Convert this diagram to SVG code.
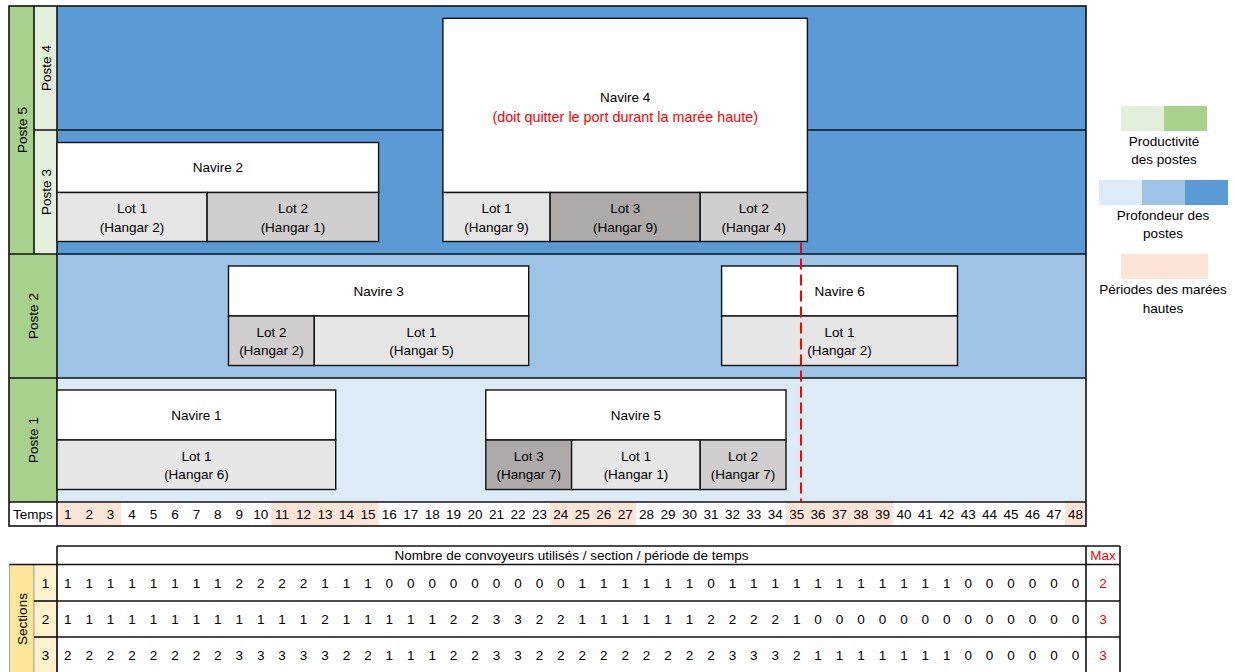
<svg xmlns="http://www.w3.org/2000/svg" width="1235" height="672" viewBox="0 0 1235 672">
<style>
.t{font-family:"Liberation Sans",Arial,sans-serif;font-size:13.5px;fill:#000;text-anchor:middle;dominant-baseline:central}
.r{font-family:"Liberation Sans",Arial,sans-serif;font-size:14.4px;fill:#FF0000;text-anchor:middle;dominant-baseline:central}
.mx{fill:#FF0000}
.ln{stroke:#111;stroke-width:1.6;fill:none}
.box{stroke:#111;stroke-width:1.4}
.w{fill:#FFFFFF}
.l1{fill:#E7E6E6}
.l2{fill:#D0CECE}
.l3{fill:#AEAAAA}
.tide{fill:#FCE4D6}
</style>
<rect width="1235" height="672" fill="#FFFFFF"/>

<g id="background">
<rect x="57" y="6" width="1029" height="248" fill="#5B9BD5"/>
<rect x="57" y="254" width="1029" height="124" fill="#9DC3E6"/>
<rect x="57" y="378" width="1029" height="124" fill="#DDEBF7"/>
<rect x="9" y="6" width="25" height="248" fill="#A9D18E"/>
<rect x="34" y="6" width="23" height="248" fill="#E2EFDA"/>
<rect x="9" y="254" width="48" height="248" fill="#A9D18E"/>
<rect x="9" y="502" width="1077" height="24" fill="#FFFFFF"/>
<rect class="tide" x="57" y="502" width="64.3" height="24"/>
<rect class="tide" x="271.4" y="502" width="107.2" height="24"/>
<rect class="tide" x="550.1" y="502" width="85.8" height="24"/>
<rect class="tide" x="786" y="502" width="107.2" height="24"/>
<rect class="tide" x="1064.6" y="502" width="21.4" height="24"/>
</g>

<g id="grid">
<rect class="ln" x="9" y="6" width="1077" height="520"/>
<line class="ln" x1="34" y1="130" x2="1086" y2="130"/>
<line class="ln" x1="9" y1="254" x2="1086" y2="254"/>
<line class="ln" x1="9" y1="378" x2="1086" y2="378"/>
<line class="ln" x1="9" y1="502" x2="1086" y2="502"/>
<line class="ln" x1="34" y1="6" x2="34" y2="254"/>
<line class="ln" x1="57" y1="6" x2="57" y2="526"/>
</g>

<g id="poste-labels">
<text class="t" transform="translate(22,130) rotate(-90)">Poste 5</text>
<text class="t" transform="translate(46,68) rotate(-90)">Poste 4</text>
<text class="t" transform="translate(46,192) rotate(-90)">Poste 3</text>
<text class="t" transform="translate(33,316) rotate(-90)">Poste 2</text>
<text class="t" transform="translate(33,440) rotate(-90)">Poste 1</text>
</g>

<g id="navire2">
<rect class="box w" x="57" y="142.5" width="321.6" height="50"/>
<rect class="box l1" x="57" y="192.5" width="150.1" height="49"/>
<rect class="box l2" x="207.1" y="192.5" width="171.5" height="49"/>
<text class="t" x="217.8" y="167.5">Navire 2</text>
<text class="t" x="132" y="208.5">Lot 1</text>
<text class="t" x="132" y="227">(Hangar 2)</text>
<text class="t" x="292.9" y="208.5">Lot 2</text>
<text class="t" x="292.9" y="227">(Hangar 1)</text>
</g>

<g id="navire4">
<rect class="box w" x="442.9" y="18.3" width="364.5" height="174.2"/>
<rect class="box l1" x="442.9" y="192.5" width="107.2" height="49"/>
<rect class="box l3" x="550.1" y="192.5" width="150.1" height="49"/>
<rect class="box l2" x="700.2" y="192.5" width="107.2" height="49"/>
<text class="t" x="625.2" y="97.5">Navire 4</text>
<text class="r" x="625.2" y="116.5">(doit quitter le port durant la marée haute)</text>
<text class="t" x="496.5" y="208.5">Lot 1</text>
<text class="t" x="496.5" y="227">(Hangar 9)</text>
<text class="t" x="625.2" y="208.5">Lot 3</text>
<text class="t" x="625.2" y="227">(Hangar 9)</text>
<text class="t" x="753.8" y="208.5">Lot 2</text>
<text class="t" x="753.8" y="227">(Hangar 4)</text>
</g>

<g id="navire3">
<rect class="box w" x="228.5" y="266" width="300.2" height="50"/>
<rect class="box l2" x="228.5" y="316" width="85.8" height="49.5"/>
<rect class="box l1" x="314.3" y="316" width="214.4" height="49.5"/>
<text class="t" x="378.6" y="291">Navire 3</text>
<text class="t" x="271.4" y="332">Lot 2</text>
<text class="t" x="271.4" y="350.5">(Hangar 2)</text>
<text class="t" x="421.5" y="332">Lot 1</text>
<text class="t" x="421.5" y="350.5">(Hangar 5)</text>
</g>

<g id="navire6">
<rect class="box w" x="721.6" y="266" width="235.9" height="50"/>
<rect class="box l1" x="721.6" y="316" width="235.9" height="49.5"/>
<text class="t" x="839.6" y="291">Navire 6</text>
<text class="t" x="839.6" y="332">Lot 1</text>
<text class="t" x="839.6" y="350.5">(Hangar 2)</text>
</g>

<g id="navire1">
<rect class="box w" x="57" y="390" width="278.7" height="50"/>
<rect class="box l1" x="57" y="440" width="278.7" height="49.5"/>
<text class="t" x="196.4" y="415.5">Navire 1</text>
<text class="t" x="196.4" y="456">Lot 1</text>
<text class="t" x="196.4" y="474.5">(Hangar 6)</text>
</g>

<g id="navire5">
<rect class="box w" x="485.8" y="390" width="300.2" height="50"/>
<rect class="box l3" x="485.8" y="440" width="85.8" height="49.5"/>
<rect class="box l1" x="571.6" y="440" width="128.6" height="49.5"/>
<rect class="box l2" x="700.2" y="440" width="85.8" height="49.5"/>
<text class="t" x="635.9" y="415.5">Navire 5</text>
<text class="t" x="528.7" y="456">Lot 3</text>
<text class="t" x="528.7" y="474.5">(Hangar 7)</text>
<text class="t" x="635.9" y="456">Lot 1</text>
<text class="t" x="635.9" y="474.5">(Hangar 1)</text>
<text class="t" x="743.1" y="456">Lot 2</text>
<text class="t" x="743.1" y="474.5">(Hangar 7)</text>
</g>

<g id="deadline">
<line x1="801" y1="242.5" x2="801" y2="502" stroke="#FF0000" stroke-width="2" stroke-dasharray="11,5"/>
</g>

<g id="temps-row">
<text class="t" x="33" y="514">Temps</text>
<text class="t" x="67.7" y="514">1</text>
<text class="t" x="89.2" y="514">2</text>
<text class="t" x="110.6" y="514">3</text>
<text class="t" x="132" y="514">4</text>
<text class="t" x="153.5" y="514">5</text>
<text class="t" x="174.9" y="514">6</text>
<text class="t" x="196.4" y="514">7</text>
<text class="t" x="217.8" y="514">8</text>
<text class="t" x="239.2" y="514">9</text>
<text class="t" x="260.7" y="514">10</text>
<text class="t" x="282.1" y="514">11</text>
<text class="t" x="303.6" y="514">12</text>
<text class="t" x="325" y="514">13</text>
<text class="t" x="346.4" y="514">14</text>
<text class="t" x="367.9" y="514">15</text>
<text class="t" x="389.3" y="514">16</text>
<text class="t" x="410.8" y="514">17</text>
<text class="t" x="432.2" y="514">18</text>
<text class="t" x="453.6" y="514">19</text>
<text class="t" x="475.1" y="514">20</text>
<text class="t" x="496.5" y="514">21</text>
<text class="t" x="518" y="514">22</text>
<text class="t" x="539.4" y="514">23</text>
<text class="t" x="560.8" y="514">24</text>
<text class="t" x="582.3" y="514">25</text>
<text class="t" x="603.7" y="514">26</text>
<text class="t" x="625.2" y="514">27</text>
<text class="t" x="646.6" y="514">28</text>
<text class="t" x="668" y="514">29</text>
<text class="t" x="689.5" y="514">30</text>
<text class="t" x="710.9" y="514">31</text>
<text class="t" x="732.4" y="514">32</text>
<text class="t" x="753.8" y="514">33</text>
<text class="t" x="775.2" y="514">34</text>
<text class="t" x="796.7" y="514">35</text>
<text class="t" x="818.1" y="514">36</text>
<text class="t" x="839.6" y="514">37</text>
<text class="t" x="861" y="514">38</text>
<text class="t" x="882.4" y="514">39</text>
<text class="t" x="903.9" y="514">40</text>
<text class="t" x="925.3" y="514">41</text>
<text class="t" x="946.8" y="514">42</text>
<text class="t" x="968.2" y="514">43</text>
<text class="t" x="989.6" y="514">44</text>
<text class="t" x="1011.1" y="514">45</text>
<text class="t" x="1032.5" y="514">46</text>
<text class="t" x="1054" y="514">47</text>
<text class="t" x="1075.4" y="514">48</text>
</g>

<g id="legend">
<rect x="1121" y="106" width="43" height="25" fill="#E2EFDA"/>
<rect x="1164" y="106" width="43" height="25" fill="#A9D18E"/>
<text class="t" x="1164" y="141.5">Productivité</text>
<text class="t" x="1164" y="159.5">des postes</text>
<rect x="1099" y="180" width="43" height="25" fill="#DDEBF7"/>
<rect x="1142" y="180" width="43" height="25" fill="#9DC3E6"/>
<rect x="1185" y="180" width="43" height="25" fill="#5B9BD5"/>
<text class="t" x="1163" y="215">Profondeur des</text>
<text class="t" x="1163" y="233.5">postes</text>
<rect class="tide" x="1121" y="254" width="87" height="25"/>
<text class="t" x="1163" y="289.5">Périodes des marées</text>
<text class="t" x="1163" y="308">hautes</text>
</g>

<g id="convoyeurs-table">
<rect x="9.5" y="564.5" width="24.5" height="120" fill="#FFE699" stroke="#A6A6A6" stroke-width="1"/>
<rect x="34" y="564.5" width="23" height="36.5" fill="#FFF2CC" stroke="#A6A6A6" stroke-width="1"/>
<rect x="34" y="601" width="23" height="36" fill="#FFF2CC" stroke="#A6A6A6" stroke-width="1"/>
<rect x="34" y="637" width="23" height="40" fill="#FFF2CC" stroke="#A6A6A6" stroke-width="1"/>
<line class="ln" x1="57" y1="546" x2="1120" y2="546"/>
<line class="ln" x1="9.5" y1="564.5" x2="1120" y2="564.5"/>
<line class="ln" x1="34" y1="601" x2="1120" y2="601"/>
<line class="ln" x1="34" y1="637" x2="1120" y2="637"/>
<line class="ln" x1="57" y1="546" x2="57" y2="672"/>
<line class="ln" x1="1086" y1="546" x2="1086" y2="672"/>
<line class="ln" x1="1120" y1="546" x2="1120" y2="672"/>
<text class="t" x="571.5" y="555.5">Nombre de convoyeurs utilisés / section / période de temps</text>
<text class="t mx" x="1103" y="555.5">Max</text>
<text class="t" transform="translate(22,619) rotate(-90)">Sections</text>
<text class="t" x="45.5" y="583">1</text>
<text class="t" x="45.5" y="619">2</text>
<text class="t" x="45.5" y="655">3</text>
<text class="t mx" x="1103" y="583">2</text>
<text class="t mx" x="1103" y="619">3</text>
<text class="t mx" x="1103" y="655">3</text>
</g>

<g id="row1">
<text class="t" x="67.7" y="583">1</text><text class="t" x="89.2" y="583">1</text><text class="t" x="110.6" y="583">1</text><text class="t" x="132" y="583">1</text><text class="t" x="153.5" y="583">1</text><text class="t" x="174.9" y="583">1</text><text class="t" x="196.4" y="583">1</text><text class="t" x="217.8" y="583">1</text><text class="t" x="239.2" y="583">2</text><text class="t" x="260.7" y="583">2</text><text class="t" x="282.1" y="583">2</text><text class="t" x="303.6" y="583">2</text><text class="t" x="325" y="583">1</text><text class="t" x="346.4" y="583">1</text><text class="t" x="367.9" y="583">1</text><text class="t" x="389.3" y="583">0</text><text class="t" x="410.8" y="583">0</text><text class="t" x="432.2" y="583">0</text><text class="t" x="453.6" y="583">0</text><text class="t" x="475.1" y="583">0</text><text class="t" x="496.5" y="583">0</text><text class="t" x="518" y="583">0</text><text class="t" x="539.4" y="583">0</text><text class="t" x="560.8" y="583">0</text><text class="t" x="582.3" y="583">1</text><text class="t" x="603.7" y="583">1</text><text class="t" x="625.2" y="583">1</text><text class="t" x="646.6" y="583">1</text><text class="t" x="668" y="583">1</text><text class="t" x="689.5" y="583">1</text><text class="t" x="710.9" y="583">0</text><text class="t" x="732.4" y="583">1</text><text class="t" x="753.8" y="583">1</text><text class="t" x="775.2" y="583">1</text><text class="t" x="796.7" y="583">1</text><text class="t" x="818.1" y="583">1</text><text class="t" x="839.6" y="583">1</text><text class="t" x="861" y="583">1</text><text class="t" x="882.4" y="583">1</text><text class="t" x="903.9" y="583">1</text><text class="t" x="925.3" y="583">1</text><text class="t" x="946.8" y="583">1</text><text class="t" x="968.2" y="583">0</text><text class="t" x="989.6" y="583">0</text><text class="t" x="1011.1" y="583">0</text><text class="t" x="1032.5" y="583">0</text><text class="t" x="1054" y="583">0</text><text class="t" x="1075.4" y="583">0</text>
</g>

<g id="row2">
<text class="t" x="67.7" y="619">1</text><text class="t" x="89.2" y="619">1</text><text class="t" x="110.6" y="619">1</text><text class="t" x="132" y="619">1</text><text class="t" x="153.5" y="619">1</text><text class="t" x="174.9" y="619">1</text><text class="t" x="196.4" y="619">1</text><text class="t" x="217.8" y="619">1</text><text class="t" x="239.2" y="619">1</text><text class="t" x="260.7" y="619">1</text><text class="t" x="282.1" y="619">1</text><text class="t" x="303.6" y="619">1</text><text class="t" x="325" y="619">2</text><text class="t" x="346.4" y="619">1</text><text class="t" x="367.9" y="619">1</text><text class="t" x="389.3" y="619">1</text><text class="t" x="410.8" y="619">1</text><text class="t" x="432.2" y="619">1</text><text class="t" x="453.6" y="619">2</text><text class="t" x="475.1" y="619">2</text><text class="t" x="496.5" y="619">3</text><text class="t" x="518" y="619">3</text><text class="t" x="539.4" y="619">2</text><text class="t" x="560.8" y="619">2</text><text class="t" x="582.3" y="619">1</text><text class="t" x="603.7" y="619">1</text><text class="t" x="625.2" y="619">1</text><text class="t" x="646.6" y="619">1</text><text class="t" x="668" y="619">1</text><text class="t" x="689.5" y="619">1</text><text class="t" x="710.9" y="619">2</text><text class="t" x="732.4" y="619">2</text><text class="t" x="753.8" y="619">2</text><text class="t" x="775.2" y="619">2</text><text class="t" x="796.7" y="619">1</text><text class="t" x="818.1" y="619">0</text><text class="t" x="839.6" y="619">0</text><text class="t" x="861" y="619">0</text><text class="t" x="882.4" y="619">0</text><text class="t" x="903.9" y="619">0</text><text class="t" x="925.3" y="619">0</text><text class="t" x="946.8" y="619">0</text><text class="t" x="968.2" y="619">0</text><text class="t" x="989.6" y="619">0</text><text class="t" x="1011.1" y="619">0</text><text class="t" x="1032.5" y="619">0</text><text class="t" x="1054" y="619">0</text><text class="t" x="1075.4" y="619">0</text>
</g>

<g id="row3">
<text class="t" x="67.7" y="655">2</text><text class="t" x="89.2" y="655">2</text><text class="t" x="110.6" y="655">2</text><text class="t" x="132" y="655">2</text><text class="t" x="153.5" y="655">2</text><text class="t" x="174.9" y="655">2</text><text class="t" x="196.4" y="655">2</text><text class="t" x="217.8" y="655">2</text><text class="t" x="239.2" y="655">3</text><text class="t" x="260.7" y="655">3</text><text class="t" x="282.1" y="655">3</text><text class="t" x="303.6" y="655">3</text><text class="t" x="325" y="655">3</text><text class="t" x="346.4" y="655">2</text><text class="t" x="367.9" y="655">2</text><text class="t" x="389.3" y="655">1</text><text class="t" x="410.8" y="655">1</text><text class="t" x="432.2" y="655">1</text><text class="t" x="453.6" y="655">2</text><text class="t" x="475.1" y="655">2</text><text class="t" x="496.5" y="655">3</text><text class="t" x="518" y="655">3</text><text class="t" x="539.4" y="655">2</text><text class="t" x="560.8" y="655">2</text><text class="t" x="582.3" y="655">2</text><text class="t" x="603.7" y="655">2</text><text class="t" x="625.2" y="655">2</text><text class="t" x="646.6" y="655">2</text><text class="t" x="668" y="655">2</text><text class="t" x="689.5" y="655">2</text><text class="t" x="710.9" y="655">2</text><text class="t" x="732.4" y="655">3</text><text class="t" x="753.8" y="655">3</text><text class="t" x="775.2" y="655">3</text><text class="t" x="796.7" y="655">2</text><text class="t" x="818.1" y="655">1</text><text class="t" x="839.6" y="655">1</text><text class="t" x="861" y="655">1</text><text class="t" x="882.4" y="655">1</text><text class="t" x="903.9" y="655">1</text><text class="t" x="925.3" y="655">1</text><text class="t" x="946.8" y="655">1</text><text class="t" x="968.2" y="655">0</text><text class="t" x="989.6" y="655">0</text><text class="t" x="1011.1" y="655">0</text><text class="t" x="1032.5" y="655">0</text><text class="t" x="1054" y="655">0</text><text class="t" x="1075.4" y="655">0</text>
</g>
</svg>
